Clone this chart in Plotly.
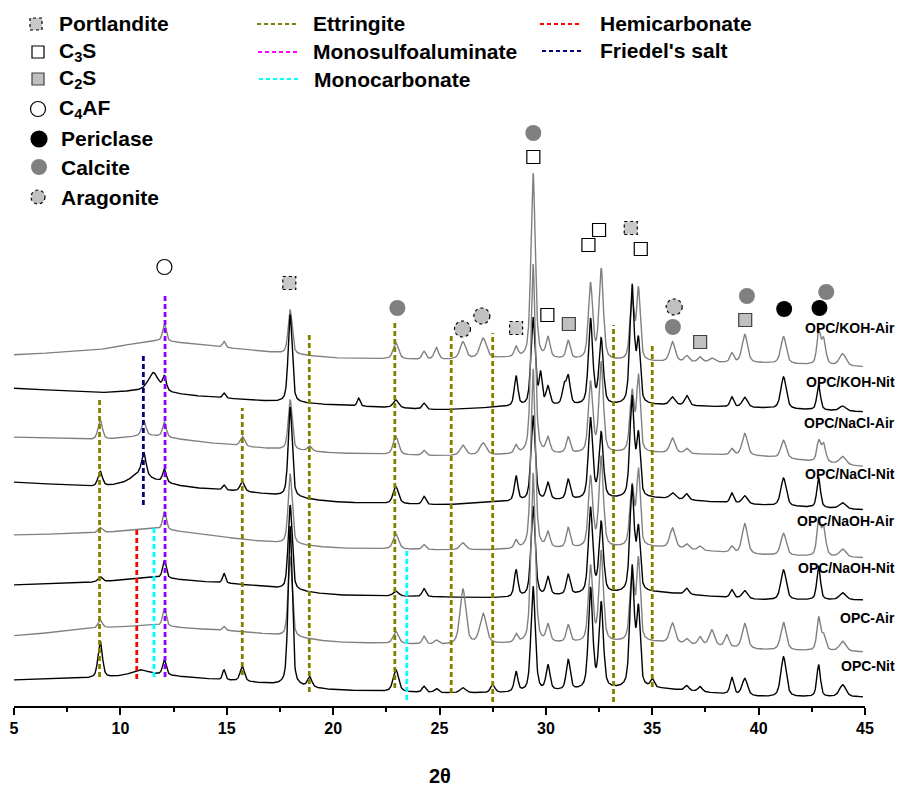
import numpy as np
import plotly.graph_objects as go

# ---------------- data ----------------
samples = ["OPC/KOH-Air", "OPC/KOH-Nit", "OPC/NaCl-Air", "OPC/NaCl-Nit",
           "OPC/NaOH-Air", "OPC/NaOH-Nit", "OPC-Air", "OPC-Nit"]
sample_colors = ["#808080", "#000000", "#808080", "#000000",
                 "#808080", "#000000", "#808080", "#000000"]
# stacking offset of each pattern (intensity at 20 deg)
offsets = [374, 327, 279, 230, 184, 137, 90, 42]

# baseline shape anchors (2theta) and relative baseline level per sample
base_x = [5, 9, 11.5, 13, 16, 20, 25, 28, 35, 40, 45]
base_koh_air = [3, 8, 18, 15, 8, 0, -2, 0, -4, -5, -9]
base_koh_nit = [17, 12, 15, 10, 5, 0, -5, -2, 0, -3, -7]
base_nacl_air = [16, 13, 18, 13, 6, 0, -3, -2, 0, -3, -14]
base_nacl_nit = [20, 15, 22, 15, 10, 0, -3, 0, 4, -3, -8]
base_naoh_air = [13, 15, 20, 16, 8, 0, -2, -2, 1, -7, -10]
base_naoh_nit = [10, 13, 18, 15, 10, 0, -2, -3, 3, -5, -5]
base_opc_air = [6, 14, 17, 14, 10, 0, -3, -2, 0, -8, -10]
base_opc_nit = [10, 12, 16, 13, 8, 0, -3, -3, 2, -7, -7]

# reflection positions (2theta) and half widths
peak_pos = [9.05, 10.9, 11.1, 11.55, 12.07, 14.87, 15.73, 17.98, 18.9, 21.2,
            22.95, 24.27, 24.85, 26.1, 27.05, 27.5, 28.6, 29.4, 29.75, 30.1,
            30.85, 31.05, 32.1, 32.6, 34.05, 34.35, 35.0, 35.95, 36.62, 37.25,
            37.8, 38.5, 38.74, 39.35, 41.17, 42.82, 43.05, 43.95]
peak_w = [0.12, 0.45, 0.12, 0.28, 0.10, 0.08, 0.12, 0.11, 0.12, 0.08,
          0.15, 0.10, 0.12, 0.16, 0.18, 0.12, 0.10, 0.12, 0.08, 0.11,
          0.10, 0.11, 0.12, 0.12, 0.12, 0.10, 0.10, 0.15, 0.12, 0.12,
          0.15, 0.12, 0.10, 0.15, 0.15, 0.10, 0.12, 0.18]
# peak heights for each sample (same order as peak_pos)
h_koh_air = [0, 0, 0, 0, 17, 6, 0, 44, 0, 0,
             16, 8, 12, 17, 20, 0, 10, 185, 0, 20,
             0, 18, 75, 90, 60, 70, 0, 20, 6, 5,
             4, 0, 9, 28, 27, 32, 25, 12]
h_koh_nit = [0, 0, 0, 18, 14, 5, 0, 88, 0, 8,
             8, 6, 0, 0, 0, 0, 30, 88, 30, 18,
             18, 28, 85, 65, 118, 60, 0, 8, 10, 0,
             0, 0, 10, 10, 32, 25, 0, 5]
h_nacl_air = [20, 0, 15, 0, 15, 0, 10, 50, 5, 0,
              18, 5, 0, 10, 12, 0, 8, 190, 0, 15,
              0, 16, 70, 90, 60, 75, 0, 15, 5, 0,
              0, 0, 6, 22, 18, 20, 18, 8]
h_nacl_nit = [15, 8, 22, 0, 13, 5, 10, 90, 0, 0,
              17, 8, 0, 0, 0, 0, 25, 85, 0, 17,
              0, 20, 80, 65, 100, 60, 0, 6, 6, 0,
              0, 0, 10, 8, 28, 30, 0, 6]
h_naoh_air = [5, 0, 0, 0, 18, 0, 0, 70, 0, 0,
              15, 5, 0, 7, 0, 0, 8, 180, 0, 15,
              0, 20, 70, 90, 60, 75, 0, 20, 5, 4,
              0, 0, 6, 30, 22, 35, 28, 8]
h_naoh_nit = [5, 0, 0, 0, 18, 10, 0, 85, 0, 0,
              5, 8, 0, 0, 0, 0, 27, 90, 0, 18,
              0, 20, 85, 70, 105, 60, 0, 0, 6, 0,
              0, 0, 8, 8, 30, 34, 0, 7]
h_opc_air = [8, 0, 0, 0, 18, 4, 0, 80, 0, 0,
             12, 8, 4, 55, 30, 0, 8, 170, 0, 17,
             0, 17, 75, 90, 70, 80, 0, 20, 5, 8,
             16, 12, 0, 25, 28, 32, 15, 10]
h_opc_nit = [37, 5, 0, 0, 15, 10, 15, 160, 10, 0,
             22, 6, 4, 5, 0, 8, 20, 105, 0, 25,
             0, 30, 100, 85, 120, 75, 8, 0, 5, 5,
             0, 0, 17, 17, 40, 32, 0, 12]

baselines = [base_koh_air, base_koh_nit, base_nacl_air, base_nacl_nit,
             base_naoh_air, base_naoh_nit, base_opc_air, base_opc_nit]
heights = [h_koh_air, h_koh_nit, h_nacl_air, h_nacl_nit,
           h_naoh_air, h_naoh_nit, h_opc_air, h_opc_nit]

# phase reference lines: position, top, bottom
ett_x = [9.02, 15.73, 18.88, 22.9, 25.55, 27.5, 33.18, 35.0]
ett_top = [335, 324, 399, 410, 397, 399, 407, 387]
ett_bot = [55, 57, 40, 44, 39, 30, 30, 45]
afm_x = [12.1]; afm_top = [439]; afm_bot = [55]
fried_x = [11.08]; fried_top = [379]; fried_bot = [227]
hemi_x = [10.77]; hemi_top = [204]; hemi_bot = [53]
monoc_x = [11.58, 23.46]; monoc_top = [205, 184]; monoc_bot = [55, 32]

# phase symbols above the patterns
c4af_x = [12.07]; c4af_y = [465]
portl_x = [17.94, 28.6, 33.99]; portl_y = [449, 404, 504]
calc_x = [29.41, 23.02, 35.97, 39.45, 43.18]; calc_y = [599, 424, 405, 436, 440]
c3s_x = [29.41, 30.07, 32.0, 32.5, 34.46]; c3s_y = [575, 417, 487, 502, 483]
c2s_x = [31.08, 37.25, 39.37]; c2s_y = [408, 390, 412]
peri_x = [41.2, 42.86]; peri_y = [423, 424]
arag_x = [26.08, 26.99, 36.03]; arag_y = [403, 416, 425]

x_ticks = [5, 10, 15, 20, 25, 30, 35, 40, 45]
x_tick_labels = ["5", "10", "15", "20", "25", "30", "35", "40", "45"]

# ---------------- figure ----------------
FONT = "Liberation Sans, Arial, sans-serif"
W, H = 903, 792
BODY = 8                      # default page margin around the plot div
AXIS_PAGE_Y = 706             # page row of the x axis line
L, R, T = 14 - BODY, W - 865 + BODY, 0
PW = W - L - R
PH = AXIS_PAGE_Y - BODY - T
B = H - T - PH
Y0 = 732 - AXIS_PAGE_Y        # data value at the axis line
Y1 = Y0 + PH


def px(x):
    return (x - BODY - L) / PW


def py(y):
    return (AXIS_PAGE_Y - y) / PH


fig = go.Figure()
two_theta = np.linspace(5.0, 44.9, 2400)
kern = np.ones(81) / 81.0
for name, col, off, bl, hs in zip(samples, sample_colors, offsets, baselines, heights):
    base = np.interp(two_theta, base_x, bl)
    padded = np.concatenate([np.full(40, base[0]), base, np.full(40, base[-1])])
    base = np.convolve(padded, kern, mode="valid")
    y = off + base
    for p, w, h in zip(peak_pos, peak_w, hs):
        if h:
            d = ((two_theta - p) / w) ** 2
            y = y + h * (0.5 / (1 + d) + 0.5 * np.exp(-np.log(2) * d))
    fig.add_trace(go.Scatter(x=two_theta, y=y, mode="lines", name=name,
                             line=dict(color=col, width=1.4), showlegend=False,
                             hoverinfo="skip"))


def vlines(xs, tops, bots, color):
    for x, t, b in zip(xs, tops, bots):
        fig.add_trace(go.Scatter(x=[x, x], y=[b, t], mode="lines",
                                 line=dict(color=color, width=2.8, dash="5px,3px"),
                                 showlegend=False, hoverinfo="skip"))


vlines(ett_x, ett_top, ett_bot, "#808000")
vlines(afm_x, afm_top, afm_bot, "#8a00ff")
vlines(fried_x, fried_top, fried_bot, "#000080")
vlines(hemi_x, hemi_top, hemi_bot, "#ff0000")
vlines(monoc_x, monoc_top, monoc_bot, "#00ffff")


def sym(xs, ys, symbol, size, fill, edge, lw=1.2):
    fig.add_trace(go.Scatter(x=xs, y=ys, mode="markers", showlegend=False,
                             hoverinfo="skip",
                             marker=dict(symbol=symbol, size=size, color=fill,
                                         line=dict(color=edge, width=lw))))


sym(c4af_x, c4af_y, "circle", 15, "white", "black")
sym(calc_x, calc_y, "circle", 16, "#808080", "#808080", 0)
sym(c3s_x, c3s_y, "square", 13, "white", "black")
sym(c2s_x, c2s_y, "square", 13, "#c0c0c0", "#404040")
sym(peri_x, peri_y, "circle", 16, "black", "black", 0)

# dotted-outline symbols (portlandite squares, aragonite circles)
dx_sq = 6.5 * 40 / PW
for x, y in zip(portl_x, portl_y):
    fig.add_shape(type="rect", xref="x", yref="y", x0=x - dx_sq, x1=x + dx_sq,
                  y0=y - 6.5, y1=y + 6.5, fillcolor="#c8c8c8",
                  line=dict(color="black", width=1.2, dash="dot"))
dx_c = 8 * 40 / PW
for x, y in zip(arag_x, arag_y):
    fig.add_shape(type="circle", xref="x", yref="y", x0=x - dx_c, x1=x + dx_c,
                  y0=y - 8, y1=y + 8, fillcolor="#c0c0c0",
                  line=dict(color="black", width=1.2, dash="dot"))

# sample labels
label_y = [328, 382, 423, 474, 521, 568, 618, 666]
for name, ly in zip(samples, label_y):
    fig.add_annotation(x=px(897), y=py(ly), xref="paper", yref="paper",
                       text="<b>%s</b>" % name, showarrow=False, xanchor="right",
                       yanchor="middle", font=dict(family=FONT, size=14, color="black"))


# ---------------- legend (drawn) ----------------
def leg_text(x, y, t):
    fig.add_annotation(x=px(x), y=py(y), xref="paper", yref="paper",
                       text="<b>%s</b>" % t, showarrow=False, xanchor="left",
                       yanchor="middle", font=dict(family=FONT, size=21, color="black"))


def leg_rect(cx, cy, s, fill, edge, dash="solid"):
    fig.add_shape(type="rect", xref="paper", yref="paper",
                  x0=px(cx - s / 2), x1=px(cx + s / 2), y0=py(cy + s / 2), y1=py(cy - s / 2),
                  fillcolor=fill, line=dict(color=edge, width=1.2, dash=dash))


def leg_circ(cx, cy, s, fill, edge, dash="solid", lw=1.2):
    fig.add_shape(type="circle", xref="paper", yref="paper",
                  x0=px(cx - s / 2), x1=px(cx + s / 2), y0=py(cy + s / 2), y1=py(cy - s / 2),
                  fillcolor=fill, line=dict(color=edge, width=lw, dash=dash))


def leg_line(x0, x1, y, color):
    fig.add_shape(type="line", xref="paper", yref="paper", x0=px(x0), x1=px(x1),
                  y0=py(y), y1=py(y), line=dict(color=color, width=2, dash="4px,3px"))


leg_rect(36, 24, 12, "#c8c8c8", "black", "dot"); leg_text(57, 24, "Portlandite")
leg_rect(38, 52, 12, "white", "black"); leg_text(57, 52, "C<sub>3</sub>S")
leg_rect(38, 79, 12, "#c0c0c0", "#404040"); leg_text(57, 79, "C<sub>2</sub>S")
leg_circ(38, 109, 15, "white", "black"); leg_text(57, 109, "C<sub>4</sub>AF")
leg_circ(39, 139, 16, "black", "black"); leg_text(59, 139, "Periclase")
leg_circ(39, 167, 16, "#808080", "#808080", lw=0); leg_text(59, 167, "Calcite")
leg_circ(38, 197, 14, "#c0c0c0", "black", "dot"); leg_text(59, 197, "Aragonite")

leg_line(257, 298, 24, "#808000"); leg_text(311, 24, "Ettringite")
leg_line(258, 298, 52, "#ff00ff"); leg_text(311, 52, "Monosulfoaluminate")
leg_line(259, 299, 79, "#00ffff"); leg_text(312, 79, "Monocarbonate")
leg_line(540, 580, 24, "#ff0000"); leg_text(598, 24, "Hemicarbonate")
leg_line(542, 582, 51, "#000080"); leg_text(598, 51, "Friedel's salt")

# axis title
fig.add_annotation(x=px(440), y=py(776), xref="paper", yref="paper", text="<b>2θ</b>",
                   showarrow=False, xanchor="center", yanchor="middle",
                   font=dict(family=FONT, size=20, color="black"))

fig.update_layout(
    width=W, height=H, margin=dict(l=L, r=R, t=T, b=B, pad=0, autoexpand=False),
    paper_bgcolor="white", plot_bgcolor="white", showlegend=False,
    xaxis=dict(range=[5, 45], showgrid=False, zeroline=False, showline=True,
               linecolor="black", linewidth=1.5, ticks="outside", ticklen=7,
               tickwidth=1.5, tickcolor="black", tickmode="array",
               tickvals=x_ticks, ticktext=["<b>%s</b>" % t for t in x_tick_labels],
               tickfont=dict(family=FONT, size=16, color="black"),
               minor=dict(dtick=2.5, ticks="outside", ticklen=4, tickwidth=1.5,
                          tickcolor="black", tick0=5)),
    yaxis=dict(range=[Y0, Y1], visible=False, fixedrange=True),
)

fig.write_html("out.html")
